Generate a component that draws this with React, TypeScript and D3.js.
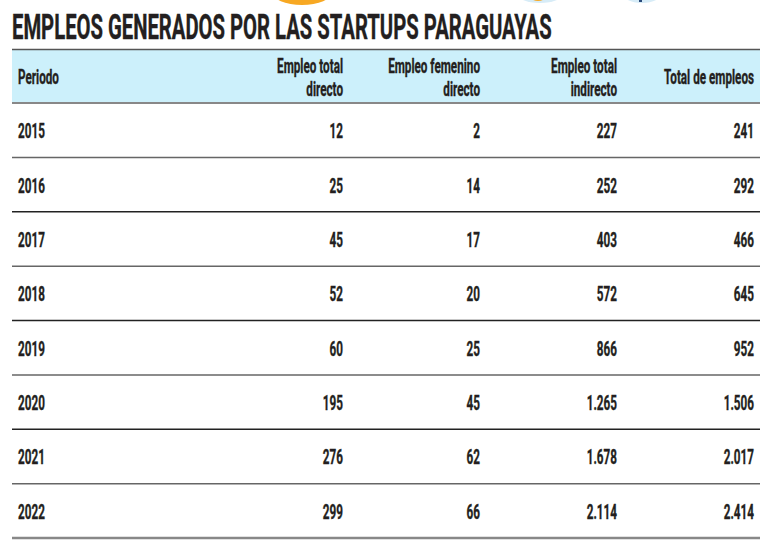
import React, { useLayoutEffect, useRef, useState } from "react";
import * as d3 from "d3";

const title = "EMPLEOS GENERADOS POR LAS STARTUPS PARAGUAYAS";
const headers: string[][] = [
  ["Periodo"],
  ["Empleo total", "directo"],
  ["Empleo femenino", "directo"],
  ["Empleo total", "indirecto"],
  ["Total de empleos"],
];
const periods = ["2015", "2016", "2017", "2018", "2019", "2020", "2021", "2022"];
const directo = [12, 25, 45, 52, 60, 195, 276, 299];
const femenino = [2, 14, 17, 20, 25, 45, 62, 66];
const indirecto = [227, 252, 403, 572, 866, 1265, 1678, 2114];
const total = [241, 292, 466, 645, 952, 1506, 2017, 2414];

const W = 776;
const H = 546;
const FONT = "Roboto, 'DejaVu Sans Condensed', sans-serif";
const INK = "#231f20";
const SX = 0.6;

const fmt = (v: number) => {
  const s = String(v);
  return s.length > 3 ? s.slice(0, s.length - 3) + "." + s.slice(-3) : s;
};

export default function App() {
  const left = 12;
  const right = 760;
  const headTop = 49;
  const headBot = 103;
  const rowY = d3.scaleBand<string>().domain(periods).range([headBot, 538]).paddingInner(0).paddingOuter(0);
  const colRight = d3.scalePoint<number>().domain([1, 2, 3, 4]).range([343, 754]);
  const rows = periods.map((p, i) => [p, directo[i], femenino[i], indirecto[i], total[i]]);

  const titleRef = useRef<SVGTextElement>(null);
  const [titleSx, setTitleSx] = useState(0.6);
  useLayoutEffect(() => {
    if (titleRef.current) {
      const len = titleRef.current.getComputedTextLength();
      if (len > 0) setTitleSx(540 / len);
    }
  }, []);

  const txt = (x: number, y: number, s: string, anchor: "start" | "end", key: string, size = 19.5) => (
    <text
      key={key}
      transform={`translate(${x},${y}) scale(${SX},1)`}
      textAnchor={anchor}
      fontFamily={FONT}
      fontWeight={700}
      fontSize={size}
      fill={INK}
      stroke={INK}
      strokeWidth={0.35}
    >
      {s}
    </text>
  );

  return (
    <svg width={W} height={H} style={{ position: "absolute", left: 0, top: 0, background: "#fff" }}>
      {/* partial decorations at top */}
      <ellipse cx={302} cy={-8} rx={30} ry={13} fill="#f7a823" />
      <ellipse cx={540} cy={-7} rx={24} ry={10} fill="#d7ecf7" />
      <ellipse cx={538} cy={-4} rx={8} ry={5} fill="#f7a823" />
      <ellipse cx={642} cy={-7} rx={20} ry={10} fill="#d7ecf7" />
      <rect x={639} y={0} width={3} height={2} fill="#2a4a7a" />

      <text
        ref={titleRef}
        transform={`translate(12,39) scale(${titleSx},1)`}
        fontFamily={FONT}
        fontWeight={700}
        fontSize={35}
        fill={INK}
        stroke={INK}
        strokeWidth={0.4}
      >
        {title}
      </text>

      <rect x={left} y={headTop} width={right - left} height={headBot - headTop} fill="#ccf0fb" />
      <line x1={left} x2={right} y1={headTop + 0.5} y2={headTop + 0.5} stroke="#555" strokeWidth={1.5} />
      <line x1={left} x2={right} y1={headBot} y2={headBot} stroke="#888" strokeWidth={2} />

      {headers.map((h, ci) => {
        const x = ci === 0 ? 18 : (colRight(ci) as number);
        const anchor = ci === 0 ? "start" : "end";
        if (h.length === 1) return txt(x, 84, h[0], anchor, `h${ci}`, 19.5);
        return (
          <g key={`h${ci}`}>
            {txt(x, 73, h[0], anchor, `h${ci}a`, 19.5)}
            {txt(x, 96, h[1], anchor, `h${ci}b`, 19.5)}
          </g>
        );
      })}

      {rows.map((r, i) => {
        const y0 = rowY(periods[i]) as number;
        const bw = rowY.bandwidth();
        const last = i === rows.length - 1;
        return (
          <g key={`r${i}`}>
            {txt(18, y0 + bw / 2 + 8, String(r[0]), "start", `c0`)}
            {[1, 2, 3, 4].map((ci) => txt(colRight(ci) as number, y0 + bw / 2 + 8, fmt(r[ci] as number), "end", `c${ci}`))}
            <line
              x1={left}
              x2={right}
              y1={y0 + bw}
              y2={y0 + bw}
              stroke={last ? "#888" : i % 2 === 0 ? "#666" : "#222"}
              strokeWidth={last ? 2.5 : 1.5}
            />
          </g>
        );
      })}
    </svg>
  );
}
